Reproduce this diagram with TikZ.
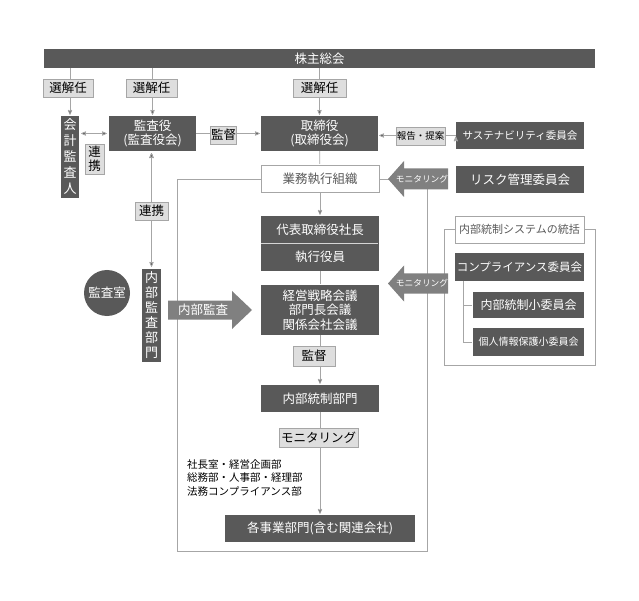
\documentclass[tikz,border=0pt]{standalone}
\usepackage{fontspec}
\setmainfont{Noto Sans CJK JP}
\usetikzlibrary{arrows,positioning,calc}
\definecolor{dk}{HTML}{595959}
\definecolor{lt}{HTML}{DEDEDE}
\definecolor{lnc}{HTML}{A6A6A6}
\definecolor{arc}{HTML}{808080}

\begin{document}
\begin{tikzpicture}[x=1pt, y=-1pt, >=stealth', shorten >=1pt, auto,
    dark/.style={fill=dk, text=white, inner sep=0pt, align=center,
      font=\fontsize{12.5}{14.5}\selectfont},
    wbox/.style={draw=lnc, fill=white, text=dk, inner sep=0pt,
      font=\fontsize{12.5}{14.5}\selectfont},
    lbl/.style={draw=lnc, fill=lt, text=black, inner sep=0pt, align=center,
      font=\fontsize{12.5}{14.5}\selectfont},
    ln/.style={draw=lnc, line width=0.8pt},
    bigarrow/.style={fill=arc}]
    \useasboundingbox (0,0) rectangle (639,601);

    % frames
    \draw[ln] (177,179) rectangle (427,551);
    \draw[ln] (444,229) rectangle (595,365);

    \node [dark, minimum width=551, minimum height=19] (GM) at (319.5,58.5) {株主総会};
    \node [dark, minimum width=18, minimum height=82,
           font=\fontsize{13}{16}\selectfont]          (AA) at (70,157) {会\\計\\監\\査\\人};
    \node [dark, minimum width=87, minimum height=35]  (AB) at (152.5,133.5) {監査役\\(監査役会)};
    \node [dark, minimum width=117, minimum height=35] (BD) at (319.5,133.5) {取締役\\(取締役会)};
    \node [dark, minimum width=128, minimum height=27,
           font=\fontsize{10.5}{12}\selectfont]        (SC) at (520,135.5) {サステナビリティ委員会};
    \node [wbox, minimum width=118, minimum height=27] (EX) at (320,178.5) {業務執行組織};
    \node [dark, minimum width=128, minimum height=27] (RC) at (520,179.5) {リスク管理委員会};
    \node [dark, circle, minimum size=46]              (AR) at (107,293) {監査室};
    \node [dark, minimum width=19, minimum height=93,
           font=\fontsize{13}{15}\selectfont]          (IA) at (151.5,315.5) {内\\部\\監\\査\\部\\門};
    \node [dark, minimum width=118, minimum height=27] (P) at (320,229.5) {代表取締役社長};
    \node [dark, minimum width=118, minimum height=28] (O) at (320,257) {執行役員};
    \node [dark, minimum width=118, minimum height=50] (M) at (320,310) {経営戦略会議\\部門長会議\\関係会社会議};
    \node [dark, minimum width=118, minimum height=27] (IC) at (320,398.5) {内部統制部門};
    \node [dark, minimum width=190, minimum height=27] (BU) at (320,528.5) {各事業部門(含む関連会社)};
    \node [anchor=north west, align=left, inner sep=0pt,
           font=\fontsize{10.5}{13.5}\selectfont]      (DP) at (187,459) {社長室・経営企画部\\総務部・人事部・経理部\\法務コンプライアンス部};
    \draw [white!75!dk, line width=0.8pt] (P.south west) -- (P.south east);

    % internal control group
    \node [wbox, minimum width=129, minimum height=27,
           font=\fontsize{11}{13}\selectfont]          (IS) at (519.5,229.5) {内部統制システムの統括};
    \node [dark, minimum width=129, minimum height=28,
           font=\fontsize{11.5}{13}\selectfont]        (CC) at (519.5,267) {コンプライアンス委員会};
    \node [dark, minimum width=111, minimum height=26,
           font=\fontsize{12}{13}\selectfont]          (S1) at (528.5,305) {内部統制小委員会};
    \node [dark, minimum width=111, minimum height=28,
           font=\fontsize{10}{12}\selectfont]          (S2) at (528.5,342) {個人情報保護小委員会};
    \draw[ln] (CC.south -| 463,0) |- (S2.west);
    \draw[ln] (S1.west -| 463,0) -- (S1.west);

    % connectors
    \path[ln, ->] (GM.south -| AA.north) edge (AA.north)
                  (GM.south -| AB.north) edge (AB.north)
                  (GM.south -| BD.north) edge (BD.north)
                  (AB.east) edge (BD.west)
                  (SC.west) edge (SC.west -| BD.east)
                  (EX) edge (P)
                  (M) edge (IC)
                  (IC) edge (BU);
    \path[ln] (BD) edge (EX)
              (O) edge (M);
    \path[ln, <->, shorten <=2pt, shorten >=2pt]
              (AA.east |- AB.west) edge (AB.west)
              (AB.south -| IA.north) edge (IA.north);

    % labels
    \node [lbl, minimum width=50, minimum height=18] (L1) at (68,88) {選解任};
    \node [lbl, minimum width=51, minimum height=18] (L2) at (151.5,88) {選解任};
    \node [lbl, minimum width=53, minimum height=18] (L3) at (319.5,88) {選解任};
    \node [lbl, minimum width=19, minimum height=30,
           font=\fontsize{12.5}{14}\selectfont]      (L4) at (94.5,159) {連\\携};
    \node [lbl, minimum width=26, minimum height=18] (L5) at (223.5,135) {監督};
    \node [lbl, minimum width=49, minimum height=18,
           font=\fontsize{9.5}{11}\selectfont]       (L6) at (420.5,136) {報告・提案};
    \node [lbl, minimum width=33, minimum height=18] (L7) at (151.5,211) {連携};
    \node [lbl, minimum width=42, minimum height=20] (L8) at (314,356) {監督};
    \node [lbl, minimum width=79, minimum height=19] (L9) at (318.5,437.5) {モニタリング};

    % big arrows
    \fill[bigarrow] (448,168.5) -- (404,168.5) -- (404,161) -- (388,179) -- (404,197)
                    -- (404,189.5) -- (448,189.5) -- cycle;
    \node [text=white, inner sep=0pt, font=\fontsize{8.7}{10}\selectfont] (MN1) at (422,179) {モニタリング};
    \fill[bigarrow] (448,273.5) -- (404,273.5) -- (404,265.5) -- (388,283.5) -- (404,301.5)
                    -- (404,293.5) -- (448,293.5) -- cycle;
    \node [text=white, inner sep=0pt, font=\fontsize{8.7}{10}\selectfont] (MN2) at (422,283.5) {モニタリング};
    \fill[bigarrow] (168,300.5) -- (232,300.5) -- (232,291) -- (252,310) -- (232,329)
                    -- (232,319.5) -- (168,319.5) -- cycle;
    \node [text=white, inner sep=0pt, font=\fontsize{12.5}{14}\selectfont] (IAR) at (203,310) {内部監査};
\end{tikzpicture}
\end{document}
